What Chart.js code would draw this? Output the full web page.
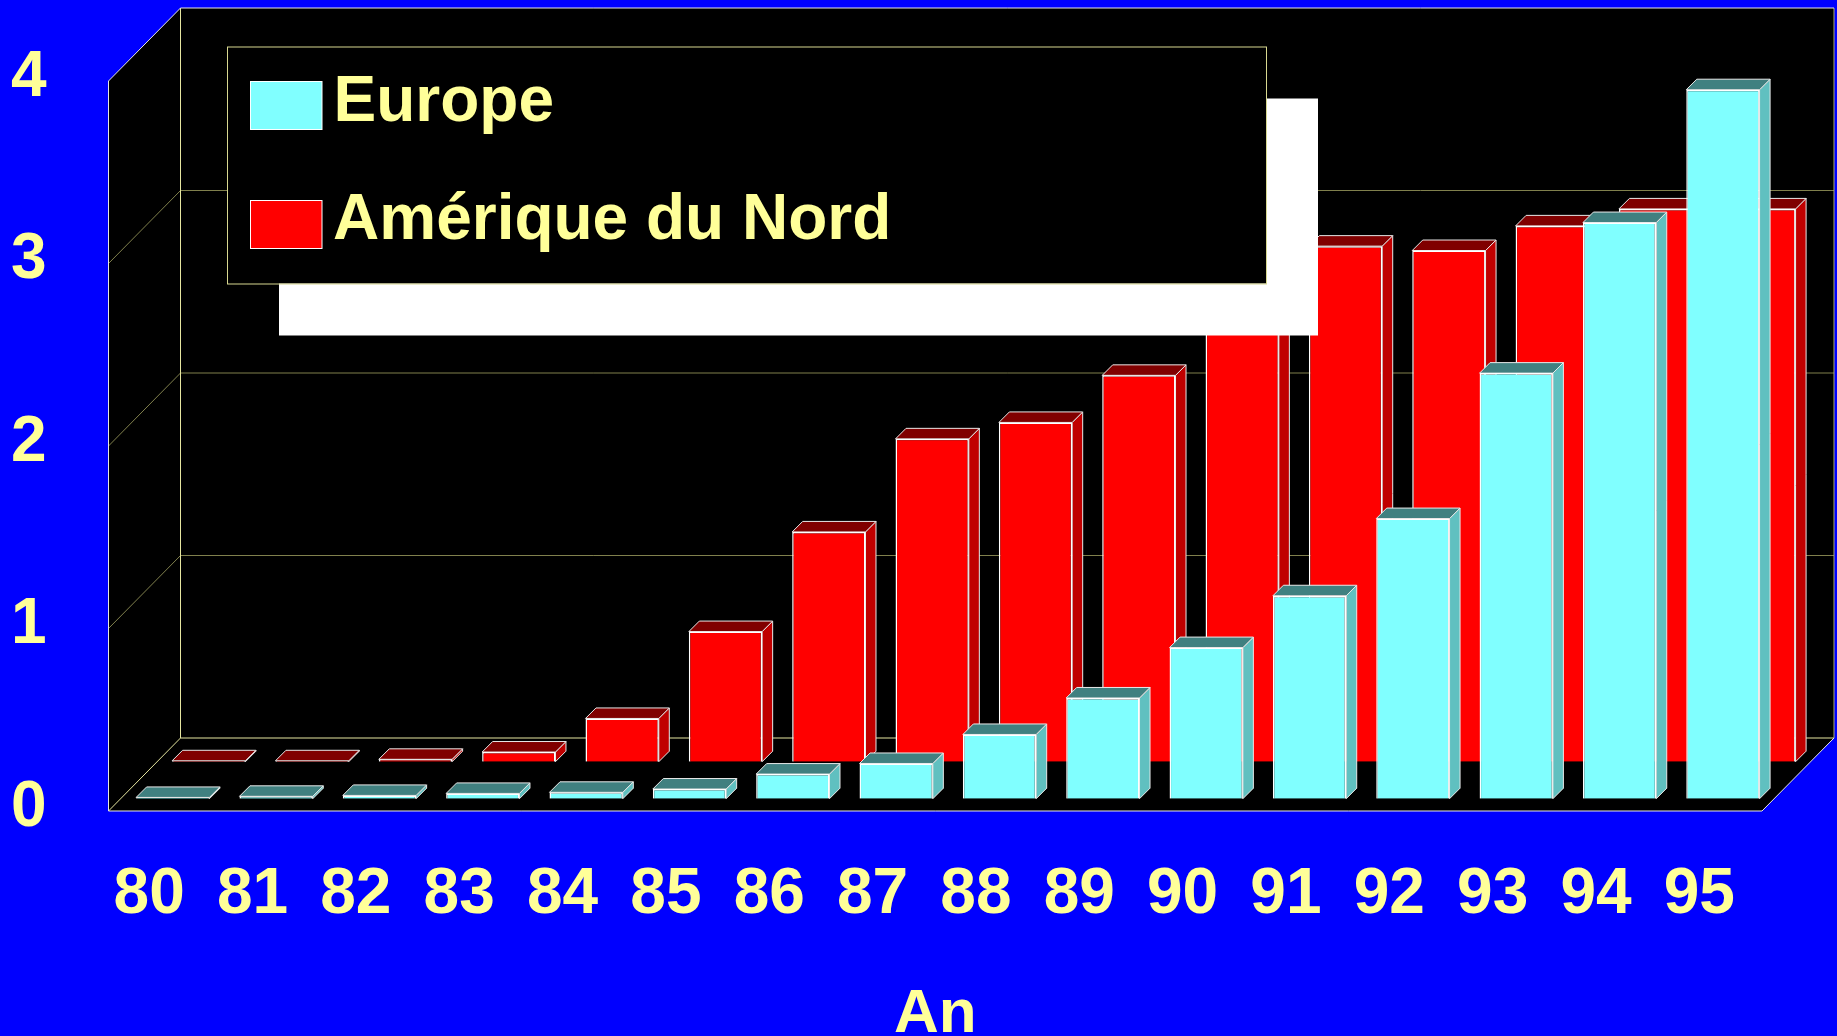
<!DOCTYPE html>
<html>
<head>
<meta charset="utf-8">
<style>
html,body{margin:0;padding:0;background:#0000ff;overflow:hidden}
canvas{display:block}
</style>
<script src="https://cdn.jsdelivr.net/npm/chart.js@4"></script>
</head>
<body>
<canvas id="c" width="1837" height="1036"></canvas>
<script>
const categories = ['80','81','82','83','84','85','86','87','88','89','90','91','92','93','94','95'];
const europe = [0.007,0.013,0.018,0.029,0.035,0.053,0.135,0.193,0.352,0.552,0.828,1.112,1.535,2.332,3.157,3.885];
const ameriqueDuNord = [0.005,0.005,0.013,0.053,0.237,0.713,1.259,1.769,1.859,2.117,2.6,2.825,2.801,2.936,3.029,3.029];
const seriesNames = ['Europe','Amérique du Nord'];
const axisTitle = 'An';

const FONT = '"Liberation Sans", Arial, sans-serif';
const TEXT = '#ffff99';
const styles = [
  {front:'#80ffff', side:'#60c0c0', top:'#408080', dx:12.6, dy:-12.3},
  {front:'#ff0000', side:'#c00000', top:'#800000', dx:48.6, dy:-49.3}
];
const BAR_DX = 10.5, BAR_DY = -10.5;
const WALL_DX = 72, WALL_DY = -73;

const scene = {
  id:'scene',
  beforeDatasetsDraw(chart){
    const {ctx, chartArea:a, scales:{y}} = chart;
    const b = y.getPixelForValue(0), t = y.getPixelForValue(4);
    ctx.save();
    ctx.beginPath();
    ctx.moveTo(a.left,b); ctx.lineTo(a.left,t);
    ctx.lineTo(a.left+WALL_DX,t+WALL_DY);
    ctx.lineTo(a.right+WALL_DX,t+WALL_DY);
    ctx.lineTo(a.right+WALL_DX,b+WALL_DY);
    ctx.lineTo(a.right,b); ctx.closePath();
    ctx.fillStyle='#000'; ctx.fill();
    ctx.lineWidth=1;
    // grid on side and back walls
    ctx.strokeStyle='#80804d';
    for(const tk of y.ticks){
      if(tk.value===0||tk.value===4) continue;
      const p=y.getPixelForValue(tk.value);
      ctx.beginPath();
      ctx.moveTo(a.left,p); ctx.lineTo(a.left+WALL_DX,p+WALL_DY); ctx.lineTo(a.right+WALL_DX,p+WALL_DY);
      ctx.stroke();
    }
    ctx.strokeStyle='#e6e6a0';
    ctx.beginPath();
    ctx.moveTo(a.left+WALL_DX,t+WALL_DY); ctx.lineTo(a.left+WALL_DX,b+WALL_DY);
    ctx.lineTo(a.left,b);
    ctx.moveTo(a.left+WALL_DX,b+WALL_DY); ctx.lineTo(a.right+WALL_DX,b+WALL_DY);
    ctx.stroke();
    ctx.strokeStyle='#b0b070';
    ctx.beginPath();
    ctx.moveTo(a.right+WALL_DX,t+WALL_DY); ctx.lineTo(a.right+WALL_DX,b+WALL_DY);
    ctx.stroke();
    ctx.strokeStyle='#e8e8e8';
    ctx.beginPath();
    ctx.moveTo(a.left,b); ctx.lineTo(a.left,t);
    ctx.lineTo(a.left+WALL_DX,t+WALL_DY);
    ctx.lineTo(a.right+WALL_DX,t+WALL_DY);
    ctx.moveTo(a.left,b); ctx.lineTo(a.right,b); ctx.lineTo(a.right+WALL_DX,b+WALL_DY);
    ctx.stroke();
    ctx.restore();
  },
  beforeDatasetDraw(chart,args){
    const {ctx} = chart, s = styles[args.index];
    ctx.save();
    ctx.translate(s.dx,s.dy);
    const meta = chart.getDatasetMeta(args.index);
    ctx.lineWidth=1; ctx.strokeStyle='#e8e8e8'; ctx.lineJoin='round';
    for(const el of meta.data){
      const {x,y,base,width} = el.getProps(['x','y','base','width'],true);
      const l=x-width/2, r=x+width/2;
      ctx.beginPath();
      ctx.moveTo(r,y); ctx.lineTo(r+BAR_DX,y+BAR_DY); ctx.lineTo(r+BAR_DX,base+BAR_DY); ctx.lineTo(r,base); ctx.closePath();
      ctx.fillStyle=s.side; ctx.fill(); ctx.stroke();
      ctx.beginPath();
      ctx.moveTo(l,y); ctx.lineTo(l+BAR_DX,y+BAR_DY); ctx.lineTo(r+BAR_DX,y+BAR_DY); ctx.lineTo(r,y); ctx.closePath();
      ctx.fillStyle=s.top; ctx.fill(); ctx.stroke();
    }
  },
  afterDatasetDraw(chart){ chart.ctx.restore(); },
  afterDatasetsDraw(chart){
    const {ctx} = chart;
    ctx.save();
    ctx.fillStyle='#fff'; ctx.fillRect(279,98.5,1039,237);
    ctx.fillStyle='#000'; ctx.fillRect(227,46.5,1039,237);
    ctx.strokeStyle='#d8d890'; ctx.lineWidth=1; ctx.strokeRect(227.5,47,1039,237);
    const rows=[{y:81.5,base:120.7},{y:200.5,base:238.7}];
    rows.forEach((row,i)=>{
      ctx.fillStyle=styles[i].front; ctx.fillRect(250.5,row.y,71.5,48);
      ctx.strokeStyle='#ffffff'; ctx.strokeRect(250.5,row.y,71.5,48);
      ctx.fillStyle=TEXT; ctx.font='bold 64px '+FONT; ctx.textAlign='left'; ctx.textBaseline='alphabetic';
      ctx.fillText(chart.data.datasets[i].label,i===0?333.5:333,row.base);
    });
    ctx.restore();
  }
};

new Chart(document.getElementById('c'),{
  type:'bar',
  data:{labels:categories,datasets:[
    {label:seriesNames[0],data:europe,backgroundColor:styles[0].front,borderColor:'#fff',borderWidth:1.5},
    {label:seriesNames[1],data:ameriqueDuNord,backgroundColor:styles[1].front,borderColor:'#fff',borderWidth:1.5}
  ]},
  plugins:[scene],
  options:{
    responsive:false,animation:false,
    layout:{padding:{top:81,right:75,left:0,bottom:0}},
    plugins:{legend:{display:false},tooltip:{enabled:false},title:{display:false}},
    datasets:{bar:{grouped:false,barPercentage:0.7095,categoryPercentage:1}},
    scales:{
      x:{
        grid:{display:false},border:{display:false},
        afterFit(s){s.height=225;s.paddingLeft=0;s.paddingRight=0;},
        ticks:{color:TEXT,font:{family:FONT,size:64,weight:'bold'},autoSkip:false,maxRotation:0,minRotation:0,labelOffset:-11,padding:38},
        title:{display:true,text:axisTitle,color:TEXT,font:{family:FONT,size:62,weight:'bold'},padding:{top:0,bottom:-16}}
      },
      y:{
        min:0,max:4,
        grid:{display:false},border:{display:false},
        afterFit(s){s.width=108.5;s.paddingTop=0;s.paddingBottom=0;},
        ticks:{color:TEXT,stepSize:1,font:{family:FONT,size:64,weight:'bold'},labelOffset:-3,padding:54,callback:v=>String(v)}
      }
    }
  }
});
</script>
</body>
</html>
